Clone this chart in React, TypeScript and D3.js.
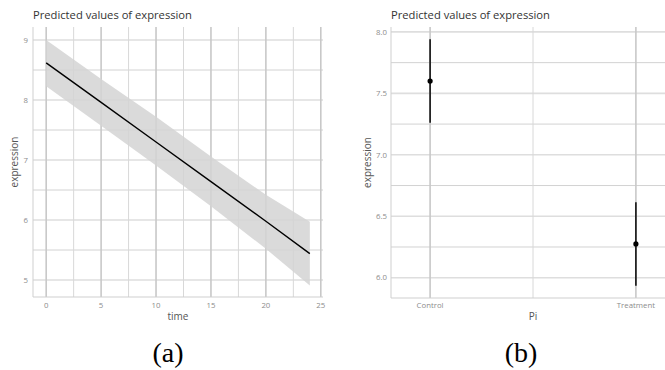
import React from "react";
import * as d3 from "d3";

// Panel (a): predicted expression over time with confidence band
const timePoints = [0, 5, 10, 15, 20, 24];
const predicted = [8.62, 7.96, 7.3, 6.64, 5.98, 5.44];
const lowerCI = [8.23, 7.57, 6.91, 6.23, 5.52, 4.91];
const upperCI = [9.0, 8.35, 7.72, 7.06, 6.42, 5.97];
const timeTicks = [0, 5, 10, 15, 20, 25];
const timeMinor = [2.5, 7.5, 12.5, 17.5, 22.5];
const exprTicksA = [5, 6, 7, 8, 9];
const exprMinorA = [5.5, 6.5, 7.5, 8.5];

// Panel (b): predicted expression by group
const groups = ["Control", "Treatment"];
const groupPred = [7.6, 6.275];
const groupLow = [7.26, 5.935];
const groupHigh = [7.94, 6.615];
const exprTicksB = [6.0, 6.5, 7.0, 7.5, 8.0];
const exprMinorB = [6.25, 6.75, 7.25, 7.75];

const FONT = "'Open Sans', 'Noto Sans', sans-serif";
const SERIF = "'Liberation Serif', 'DejaVu Serif', serif";
const MAJOR_V = "#c8c8c8";
const MINOR_V = "#d8d8d8";
const MAJOR_H = "#dedede";
const MINOR_H = "#d2d2d2";
const AXIS = "#cfcfcf";
const TICK_TXT = "#8c8c8c";
const TITLE_TXT = "#333";
const AXTITLE_TXT = "#555";

export default function App() {
  // ---- panel (a) scales
  const ax = { left: 33, right: 323, top: 27, bottom: 297 };
  const xA = d3.scaleLinear().domain([-1.2, 25.2]).range([ax.left, ax.right]);
  const yA = d3.scaleLinear().domain([4.717, 9.217]).range([ax.bottom, ax.top]);
  const rows = timePoints.map((t, i) => ({ t, p: predicted[i], lo: lowerCI[i], hi: upperCI[i] }));
  const band = d3
    .area<any>()
    .x((d) => xA(d.t))
    .y0((d) => yA(d.lo))
    .y1((d) => yA(d.hi))(rows);
  const line = d3
    .line<any>()
    .x((d) => xA(d.t))
    .y((d) => yA(d.p))(rows);

  // ---- panel (b) scales
  const bx = { left: 391, right: 675, top: 27, bottom: 298 };
  const xB = d3.scaleLinear().domain([0.81, 2.19]).range([bx.left, bx.right]);
  const yB = d3.scaleLinear().domain([5.835, 8.04]).range([bx.bottom, bx.top]);

  return (
    <svg
      width={665}
      height={370}
      style={{ position: "absolute", left: 0, top: 0, background: "#fff" }}
      fontFamily={FONT}
    >
      {/* ===== Panel (a) ===== */}
      <g>
        {exprMinorA.map((v) => (
          <line key={"ham" + v} x1={ax.left} x2={ax.right} y1={yA(v)} y2={yA(v)} stroke={MINOR_H} strokeWidth={1} />
        ))}
        {exprTicksA.map((v) => (
          <line key={"haM" + v} x1={ax.left} x2={ax.right} y1={yA(v)} y2={yA(v)} stroke={MAJOR_H} strokeWidth={1.6} />
        ))}
        {timeMinor.map((v) => (
          <line key={"vam" + v} x1={xA(v)} x2={xA(v)} y1={ax.top} y2={ax.bottom} stroke={MINOR_V} strokeWidth={1} />
        ))}
        {timeTicks.map((v) => (
          <line key={"vaM" + v} x1={xA(v)} x2={xA(v)} y1={ax.top} y2={ax.bottom} stroke={MAJOR_V} strokeWidth={1.6} />
        ))}
        <path d={band ?? ""} fill="#d3d3d3" fillOpacity={0.85} />
        <path d={line ?? ""} fill="none" stroke="#000" strokeWidth={1.4} />
        <line x1={ax.left} x2={ax.left} y1={ax.top} y2={ax.bottom} stroke={AXIS} strokeWidth={1} />
        <line x1={ax.left} x2={ax.right} y1={ax.bottom} y2={ax.bottom} stroke={AXIS} strokeWidth={1} />
        {exprTicksA.map((v) => (
          <text key={"tya" + v} x={28} y={yA(v)} dy="0.35em" textAnchor="end" fontSize={7.8} fill={TICK_TXT}>
            {v}
          </text>
        ))}
        {timeTicks.map((v) => (
          <text key={"txa" + v} x={xA(v)} y={308} textAnchor="middle" fontSize={7.8} fill={TICK_TXT}>
            {v}
          </text>
        ))}
        <text x={33} y={19} fontSize={11.2} fill={TITLE_TXT}>
          Predicted values of expression
        </text>
        <text x={(ax.left + ax.right) / 2} y={320} textAnchor="middle" fontSize={10} fill={AXTITLE_TXT}>
          time
        </text>
        <text
          transform={`translate(18, ${(ax.top + ax.bottom) / 2}) rotate(-90)`}
          textAnchor="middle"
          fontSize={10}
          fill={AXTITLE_TXT}
        >
          expression
        </text>
      </g>

      {/* ===== Panel (b) ===== */}
      <g>
        {exprMinorB.map((v) => (
          <line key={"hbm" + v} x1={bx.left} x2={665} y1={yB(v)} y2={yB(v)} stroke={MINOR_H} strokeWidth={1} />
        ))}
        {exprTicksB.map((v) => (
          <line key={"hbM" + v} x1={bx.left} x2={665} y1={yB(v)} y2={yB(v)} stroke={MAJOR_H} strokeWidth={1.6} />
        ))}
        <line x1={xB(1.5)} x2={xB(1.5)} y1={bx.top} y2={bx.bottom} stroke={MINOR_V} strokeWidth={1} />
        {groups.map((g, i) => (
          <line key={"vbM" + g} x1={xB(i + 1)} x2={xB(i + 1)} y1={bx.top} y2={bx.bottom} stroke={MAJOR_V} strokeWidth={1.6} />
        ))}
        <line x1={bx.left} x2={bx.left} y1={bx.top} y2={bx.bottom} stroke={AXIS} strokeWidth={1} />
        <line x1={bx.left} x2={665} y1={bx.bottom} y2={bx.bottom} stroke={AXIS} strokeWidth={1} />
        {groups.map((g, i) => (
          <g key={"pt" + g}>
            <line
              x1={xB(i + 1)}
              x2={xB(i + 1)}
              y1={yB(groupLow[i])}
              y2={yB(groupHigh[i])}
              stroke="#111"
              strokeWidth={1.6}
            />
            <circle cx={xB(i + 1)} cy={yB(groupPred[i])} r={2.6} fill="#000" />
          </g>
        ))}
        {exprTicksB.map((v) => (
          <text key={"tyb" + v} x={387} y={yB(v)} dy="0.35em" textAnchor="end" fontSize={7.8} fill={TICK_TXT}>
            {v.toFixed(1)}
          </text>
        ))}
        {groups.map((g, i) => (
          <text key={"txb" + g} x={xB(i + 1)} y={308} textAnchor="middle" fontSize={7.8} fill={TICK_TXT}>
            {g}
          </text>
        ))}
        <text x={391} y={19} fontSize={11.2} fill={TITLE_TXT}>
          Predicted values of expression
        </text>
        <text x={(bx.left + bx.right) / 2} y={320} textAnchor="middle" fontSize={10} fill={AXTITLE_TXT}>
          Pi
        </text>
        <text
          transform={`translate(371, ${(bx.top + bx.bottom) / 2}) rotate(-90)`}
          textAnchor="middle"
          fontSize={10}
          fill={AXTITLE_TXT}
        >
          expression
        </text>
      </g>

      {/* sub-figure captions */}
      <text x={168} y={362} textAnchor="middle" fontSize={28} fontFamily={SERIF} fill="#000">
        (a)
      </text>
      <text x={521} y={362} textAnchor="middle" fontSize={28} fontFamily={SERIF} fill="#000">
        (b)
      </text>
    </svg>
  );
}
